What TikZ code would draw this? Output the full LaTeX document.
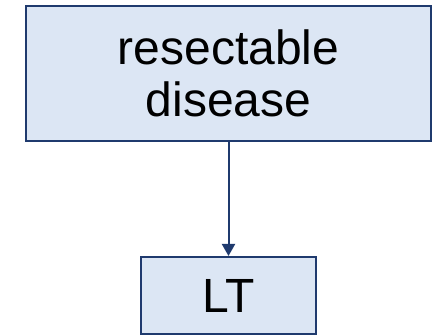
\documentclass[tikz,border=0pt]{standalone}
\usepackage{fontspec}
\setmainfont{Liberation Sans}
\usetikzlibrary{arrows.meta}
\definecolor{boxfill}{HTML}{DCE6F4}
\definecolor{boxline}{HTML}{1F3A6E}
\begin{document}
\begin{tikzpicture}[x=1pt,y=-1pt,
  box/.style={draw=boxline,fill=boxfill,line width=2pt,inner sep=0pt,
    font=\fontsize{48}{52}\selectfont,align=center,text=black},
  conn/.style={draw=boxline,line width=2pt,-{Triangle[length=12pt,width=13pt]}}]
\useasboundingbox (0,0) rectangle (439,336);
\node[box,minimum width=405pt,minimum height=135pt] (top) at (228.5,73.5) {resectable\\disease};
\node[box,minimum width=175pt,minimum height=77pt] (lt) at (228.5,295.5) {LT};
\draw[conn] (top.south) -- (lt.north);
\end{tikzpicture}
\end{document}
